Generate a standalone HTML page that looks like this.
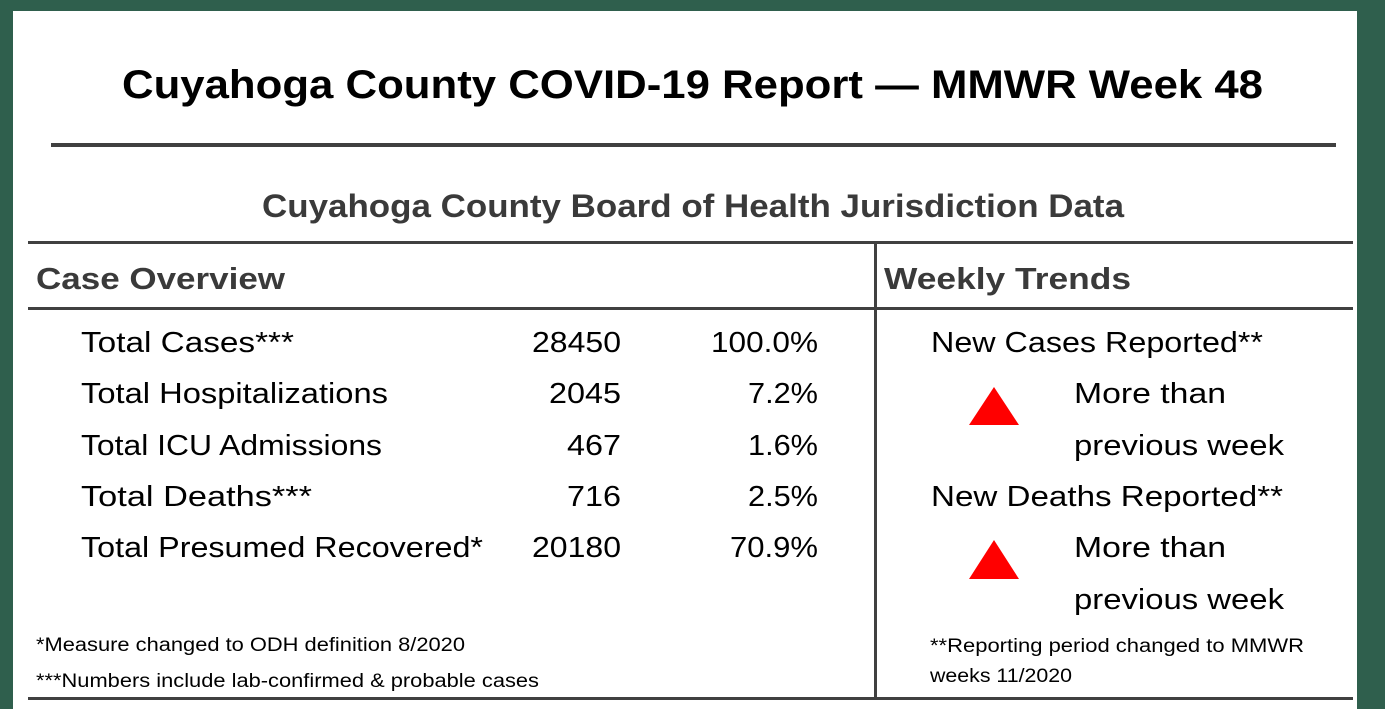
<!DOCTYPE html>
<html><head><meta charset="utf-8"><style>
html,body{margin:0;padding:0;background:#fff;}
svg{display:block;}
text{font-family:"Liberation Sans",sans-serif;}
</style></head><body>
<svg width="1385" height="709" viewBox="0 0 1385 709" xmlns="http://www.w3.org/2000/svg">
<rect x="0" y="0" width="1385" height="709" fill="#fff"/>
<rect x="0" y="0" width="1385" height="11" fill="#2f5f4d"/>
<rect x="0" y="0" width="13" height="709" fill="#2f5f4d"/>
<rect x="1357" y="0" width="28" height="709" fill="#2f5f4d"/>
<text x="122" y="98" font-size="40" font-weight="bold" fill="#000" textLength="1141" lengthAdjust="spacingAndGlyphs">Cuyahoga County COVID-19 Report — MMWR Week 48</text>
<rect x="51" y="143" width="1285" height="4" fill="#404040"/>
<text x="262" y="217" font-size="32" font-weight="bold" fill="#3a3a3a" textLength="862" lengthAdjust="spacingAndGlyphs">Cuyahoga County Board of Health Jurisdiction Data</text>
<rect x="28" y="241" width="1325" height="3" fill="#404040"/>
<rect x="28" y="307" width="1325" height="3" fill="#404040"/>
<rect x="28" y="697" width="1325" height="3" fill="#404040"/>
<rect x="874" y="242" width="3" height="457" fill="#404040"/>
<text x="36" y="289" font-size="31" font-weight="bold" fill="#3a3a3a" textLength="249" lengthAdjust="spacingAndGlyphs">Case Overview</text>
<text x="884" y="289" font-size="31" font-weight="bold" fill="#3a3a3a" textLength="247" lengthAdjust="spacingAndGlyphs">Weekly Trends</text>
<g font-size="29" fill="#000">
<text x="81" y="352" textLength="213" lengthAdjust="spacingAndGlyphs">Total Cases***</text>
<text x="81" y="403" textLength="307" lengthAdjust="spacingAndGlyphs">Total Hospitalizations</text>
<text x="81" y="455" textLength="301" lengthAdjust="spacingAndGlyphs">Total ICU Admissions</text>
<text x="81" y="506" textLength="231" lengthAdjust="spacingAndGlyphs">Total Deaths***</text>
<text x="81" y="557" textLength="402" lengthAdjust="spacingAndGlyphs">Total Presumed Recovered*</text>
<text x="532" y="352" textLength="89" lengthAdjust="spacingAndGlyphs">28450</text>
<text x="549" y="403" textLength="72" lengthAdjust="spacingAndGlyphs">2045</text>
<text x="567" y="455" textLength="54" lengthAdjust="spacingAndGlyphs">467</text>
<text x="567" y="506" textLength="54" lengthAdjust="spacingAndGlyphs">716</text>
<text x="532" y="557" textLength="89" lengthAdjust="spacingAndGlyphs">20180</text>
<text x="711" y="352" textLength="107" lengthAdjust="spacingAndGlyphs">100.0%</text>
<text x="748" y="403" textLength="70" lengthAdjust="spacingAndGlyphs">7.2%</text>
<text x="748" y="455" textLength="70" lengthAdjust="spacingAndGlyphs">1.6%</text>
<text x="748" y="506" textLength="70" lengthAdjust="spacingAndGlyphs">2.5%</text>
<text x="730" y="557" textLength="88" lengthAdjust="spacingAndGlyphs">70.9%</text>
<text x="931" y="352" textLength="332" lengthAdjust="spacingAndGlyphs">New Cases Reported**</text>
<text x="1074" y="403" textLength="152" lengthAdjust="spacingAndGlyphs">More than</text>
<text x="1074" y="455" textLength="210" lengthAdjust="spacingAndGlyphs">previous week</text>
<text x="931" y="506" textLength="352" lengthAdjust="spacingAndGlyphs">New Deaths Reported**</text>
<text x="1074" y="557" textLength="152" lengthAdjust="spacingAndGlyphs">More than</text>
<text x="1074" y="609" textLength="210" lengthAdjust="spacingAndGlyphs">previous week</text>
</g>
<polygon points="994,387 969,425 1019,425" fill="#ff0000"/>
<polygon points="994,540 969,579 1019,579" fill="#ff0000"/>
<g font-size="19" fill="#000">
<text x="36" y="651" textLength="429" lengthAdjust="spacingAndGlyphs">*Measure changed to ODH  definition 8/2020</text>
<text x="36" y="687" textLength="503" lengthAdjust="spacingAndGlyphs">***Numbers include lab-confirmed &amp; probable cases</text>
<text x="930" y="652" textLength="374" lengthAdjust="spacingAndGlyphs">**Reporting period changed to MMWR</text>
<text x="930" y="682" textLength="142" lengthAdjust="spacingAndGlyphs">weeks 11/2020</text>
</g>
</svg>
</body></html>
